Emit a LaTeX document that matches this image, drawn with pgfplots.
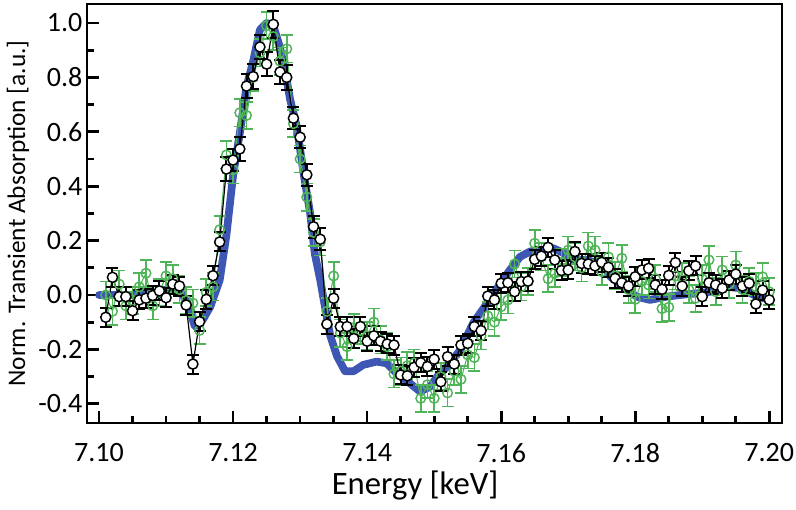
\documentclass[border=0pt]{standalone}
\usepackage{fontspec}
\setmainfont{Carlito}
\usepackage{pgfplots}
\pgfplotsset{compat=1.18}
\usepackage{pgfplotstable}
\definecolor{cblue}{RGB}{62,87,180}
\definecolor{cgreen}{RGB}{80,180,88}

\pgfplotstableread{
x y e
7.101 -0.082 0.035
7.102 0.065 0.035
7.103 -0.006 0.035
7.104 -0.006 0.035
7.105 -0.058 0.035
7.106 -0.018 0.035
7.107 -0.012 0.035
7.108 -0.002 0.035
7.109 0.015 0.035
7.110 -0.010 0.035
7.111 0.040 0.035
7.112 0.033 0.035
7.113 -0.037 0.035
7.114 -0.254 0.035
7.115 -0.098 0.035
7.116 -0.016 0.035
7.117 0.071 0.035
7.118 0.195 0.035
7.119 0.463 0.045
7.120 0.496 0.040
7.121 0.537 0.045
7.122 0.768 0.045
7.123 0.803 0.045
7.124 0.912 0.045
7.125 0.849 0.045
7.126 0.995 0.050
7.127 0.820 0.045
7.128 0.800 0.045
7.129 0.650 0.040
7.130 0.580 0.040
7.131 0.442 0.040
7.132 0.251 0.040
7.133 0.205 0.040
7.134 -0.107 0.035
7.135 -0.012 0.035
7.136 -0.116 0.035
7.137 -0.116 0.035
7.138 -0.160 0.035
7.139 -0.116 0.035
7.140 -0.170 0.035
7.141 -0.150 0.035
7.142 -0.170 0.035
7.143 -0.180 0.035
7.144 -0.184 0.035
7.145 -0.294 0.035
7.146 -0.297 0.035
7.147 -0.266 0.035
7.148 -0.249 0.035
7.149 -0.263 0.035
7.150 -0.236 0.035
7.151 -0.319 0.035
7.152 -0.227 0.035
7.153 -0.254 0.035
7.154 -0.184 0.035
7.155 -0.178 0.035
7.156 -0.116 0.035
7.157 -0.131 0.035
7.158 -0.004 0.035
7.159 -0.018 0.035
7.160 0.043 0.035
7.161 0.045 0.035
7.162 0.012 0.035
7.163 0.049 0.035
7.164 0.051 0.035
7.165 0.131 0.035
7.166 0.143 0.035
7.167 0.175 0.035
7.168 0.129 0.035
7.169 0.090 0.035
7.170 0.092 0.035
7.171 0.160 0.035
7.172 0.116 0.035
7.173 0.114 0.035
7.174 0.107 0.035
7.175 0.120 0.035
7.176 0.102 0.035
7.177 0.061 0.035
7.178 0.045 0.035
7.179 0.033 0.035
7.180 0.067 0.035
7.181 0.092 0.035
7.182 0.098 0.035
7.183 0.037 0.035
7.184 0.021 0.035
7.185 0.072 0.035
7.186 0.119 0.035
7.187 0.033 0.035
7.188 0.089 0.035
7.189 0.107 0.035
7.190 -0.006 0.035
7.191 0.045 0.035
7.192 0.037 0.035
7.193 0.025 0.035
7.194 0.055 0.035
7.195 0.077 0.035
7.196 0.033 0.035
7.197 0.043 0.035
7.198 -0.033 0.035
7.199 0.018 0.035
7.200 -0.018 0.035
}\blackdata

\pgfplotstableread{
x y e
7.101 0.00 0.05
7.102 -0.06 0.05
7.103 0.04 0.05
7.104 -0.04 0.05
7.105 -0.02 0.05
7.106 0.03 0.05
7.107 0.08 0.05
7.108 -0.04 0.05
7.109 0.01 0.05
7.110 0.07 0.05
7.111 0.06 0.05
7.112 0.02 0.05
7.113 -0.02 0.05
7.114 -0.03 0.05
7.115 -0.13 0.05
7.116 0.01 0.05
7.117 0.03 0.05
7.118 0.24 0.05
7.119 0.515 0.05
7.120 0.46 0.05
7.121 0.67 0.05
7.122 0.66 0.05
7.123 0.80 0.05
7.124 0.89 0.05
7.125 0.99 0.05
7.126 0.95 0.05
7.127 0.86 0.05
7.128 0.905 0.05
7.129 0.63 0.05
7.130 0.50 0.05
7.131 0.36 0.05
7.132 0.23 0.05
7.133 0.195 0.05
7.134 -0.06 0.05
7.135 0.07 0.05
7.136 -0.14 0.05
7.137 -0.19 0.05
7.138 -0.12 0.05
7.139 -0.13 0.05
7.140 -0.15 0.05
7.141 -0.10 0.05
7.142 -0.165 0.05
7.143 -0.19 0.05
7.144 -0.29 0.05
7.145 -0.28 0.05
7.146 -0.26 0.05
7.147 -0.25 0.05
7.148 -0.38 0.05
7.149 -0.33 0.05
7.150 -0.38 0.05
7.151 -0.30 0.05
7.152 -0.36 0.05
7.153 -0.28 0.05
7.154 -0.31 0.05
7.155 -0.22 0.05
7.156 -0.23 0.05
7.157 -0.15 0.05
7.158 -0.077 0.05
7.159 -0.10 0.05
7.160 -0.043 0.05
7.161 -0.018 0.05
7.162 0.114 0.05
7.163 0.03 0.05
7.164 0.05 0.05
7.165 0.19 0.05
7.166 0.14 0.05
7.167 0.06 0.05
7.168 0.08 0.05
7.169 0.12 0.05
7.170 0.165 0.05
7.171 0.14 0.05
7.172 0.10 0.05
7.173 0.18 0.05
7.174 0.165 0.05
7.175 0.086 0.05
7.176 0.14 0.05
7.177 0.07 0.05
7.178 0.135 0.05
7.179 0.02 0.05
7.180 -0.016 0.05
7.181 0.05 0.05
7.182 0.037 0.05
7.183 0.06 0.05
7.184 -0.05 0.05
7.185 -0.045 0.05
7.186 0.07 0.05
7.187 0.067 0.05
7.188 0.02 0.05
7.189 -0.012 0.05
7.190 0.06 0.05
7.191 0.129 0.05
7.192 0.012 0.05
7.193 0.092 0.05
7.194 0.04 0.05
7.195 0.11 0.05
7.196 0.02 0.05
7.197 0.05 0.05
7.198 0.03 0.05
7.199 0.067 0.05
7.200 0.012 0.05
}\greendata

\pgfplotstableread{
x y
7.1000 0.0
7.1050 0.0
7.1080 0.005
7.1100 0.02
7.1115 0.02
7.1125 0.0
7.1133 -0.04
7.1143 -0.115
7.1155 -0.09
7.1166 -0.043
7.1180 0.055
7.1190 0.22
7.1200 0.44
7.1210 0.595
7.1220 0.766
7.1230 0.86
7.1240 0.975
7.1250 1.00
7.1260 0.99
7.1270 0.91
7.1280 0.79
7.1285 0.72
7.1295 0.62
7.1305 0.45
7.1315 0.30
7.1322 0.15
7.1330 0.055
7.1337 -0.043
7.1345 -0.15
7.1355 -0.225
7.1367 -0.28
7.1380 -0.28
7.1394 -0.257
7.1414 -0.245
7.1429 -0.251
7.1444 -0.288
7.1464 -0.325
7.1479 -0.355
7.1494 -0.337
7.1506 -0.295
7.1519 -0.264
7.1539 -0.202
7.1558 -0.104
7.1579 -0.03
7.1599 0.043
7.1613 0.092
7.1628 0.14
7.1643 0.16
7.1658 0.165
7.1678 0.172
7.1693 0.154
7.1708 0.129
7.1728 0.129
7.1752 0.11
7.1763 0.067
7.1782 0.03
7.1802 -0.006
7.1822 -0.018
7.1847 -0.006
7.1867 0.0
7.1892 0.006
7.1912 0.012
7.1937 0.03
7.1957 0.025
7.1982 -0.006
7.2001 -0.018
}\bluedata

\begin{document}
\begin{tikzpicture}
\begin{axis}[
  scale only axis,
  width=521.25bp, height=314.25bp,
  xmin=7.0982, xmax=7.2019,
  ymin=-0.4706, ymax=1.0699,
  axis line style={line width=2bp},
  axis x line*=bottom, axis y line*=left,
  clip=true,
  xtick={7.10,7.12,7.14,7.16,7.18,7.20},
  minor x tick num=3,
  ytick={-0.4,-0.2,0,0.2,0.4,0.6,0.8,1.0},
  minor y tick num=1,
  tick align=inside,
  major tick length=9bp, minor tick length=5bp,
  every tick/.style={black, line width=2bp},
  xticklabel style={yshift=-12bp, /pgf/number format/.cd, fixed, fixed zerofill, precision=2, assume math mode=true},
  yticklabel style={/pgf/number format/.cd, fixed, fixed zerofill, precision=1, assume math mode=true},
  scaled x ticks=false,
  tick label style={font=\fontsize{21bp}{25bp}\selectfont},
  ylabel style={font=\fontsize{19bp}{23bp}\selectfont},
  xlabel style={font=\fontsize{24.5bp}{29bp}\selectfont, at={(axis description cs:0.472,0)}, anchor=center, yshift=-47.25bp},
  xlabel={Energy [keV]},
  ylabel={Norm. Transient Absorption [a.u.]},
]
\addplot[cblue, line width=5.8bp, line join=round, line cap=round] table[x=x,y=y] {\bluedata};
\addplot[cgreen, line width=0.8bp, mark=o, mark size=3.6bp,
  mark options={cgreen, line width=1.1bp, fill=none},
  error bars/.cd, y dir=both, y explicit,
  error bar style={cgreen, line width=1.3bp},
  error mark options={rotate=90, mark size=4.5bp, cgreen, line width=1.3bp}]
  table[x=x,y=y,y error=e] {\greendata};
\addplot[black, line width=0.9bp, mark=*, mark size=3.8bp,
  mark options={fill=white, draw=black, line width=1.1bp},
  error bars/.cd, y dir=both, y explicit,
  error bar style={black, line width=1.5bp},
  error mark options={rotate=90, mark size=4.5bp, black, line width=1.5bp}]
  table[x=x,y=y,y error=e] {\blackdata};
\end{axis}
\draw[line width=2bp] (current axis.south west) rectangle (current axis.north east);
\pgfresetboundingbox
\path[use as bounding box] ([xshift=-65.25bp,yshift=-65.25bp]current axis.south west) rectangle ([xshift=10.5bp,yshift=3bp]current axis.north east);
\end{tikzpicture}
\end{document}
